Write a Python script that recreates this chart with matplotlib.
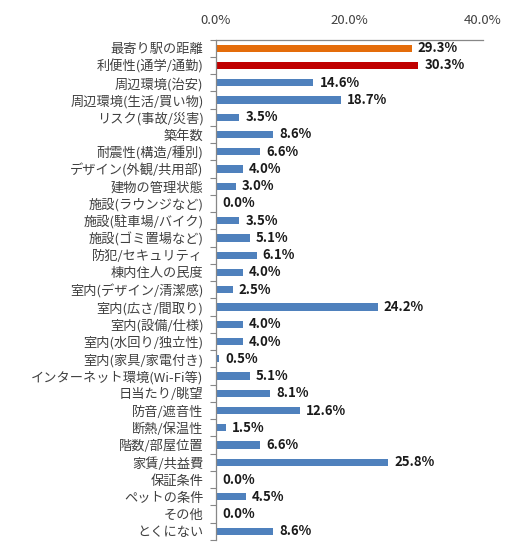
import matplotlib
matplotlib.use("Agg")
import matplotlib.pyplot as plt
from matplotlib.ticker import FuncFormatter, FixedLocator

categories = ["最寄り駅の距離", "利便性(通学/通勤)", "周辺環境(治安)", "周辺環境(生活/買い物)",
              "リスク(事故/災害)", "築年数", "耐震性(構造/種別)", "デザイン(外観/共用部)",
              "建物の管理状態", "施設(ラウンジなど)", "施設(駐車場/バイク)", "施設(ゴミ置場など)",
              "防犯/セキュリティ", "棟内住人の民度", "室内(デザイン/清潔感)", "室内(広さ/間取り)",
              "室内(設備/仕様)", "室内(水回り/独立性)", "室内(家具/家電付き)", "インターネット環境(Wi-Fi等)",
              "日当たり/眺望", "防音/遮音性", "断熱/保温性", "階数/部屋位置", "家賃/共益費",
              "保証条件", "ペットの条件", "その他", "とくにない"]
values = [29.3, 30.3, 14.6, 18.7, 3.5, 8.6, 6.6, 4.0, 3.0, 0.0, 3.5, 5.1, 6.1, 4.0, 2.5,
          24.2, 4.0, 4.0, 0.5, 5.1, 8.1, 12.6, 1.5, 6.6, 25.8, 0.0, 4.5, 0.0, 8.6]
colors = ["#E46C0A", "#C00000"] + ["#4F81BD"] * (len(values) - 2)
xticks = [0, 20, 40]

plt.rcParams['font.family'] = ['Noto Sans CJK JP', 'DejaVu Sans']

fig = plt.figure(figsize=(5.13, 5.54), dpi=100)
ax = fig.add_axes([0.421, 0.0253, 0.5205, 0.9034])
n = len(categories)
y = list(range(n))
ax.barh(y, values, height=0.42, color=colors)
ax.set_ylim(n - 0.5, -0.5)
ax.set_xlim(0, 40)
ax.set_yticks(y)
ax.set_yticklabels(categories, fontsize=9.5, color="#404040")
ax.tick_params(axis='y', length=0, pad=9)
ax.yaxis.set_minor_locator(FixedLocator([i + 0.5 for i in range(-1, n)]))
ax.tick_params(axis='y', which='minor', length=4, color="#878787", width=0.8)
ax.xaxis.tick_top()
ax.set_xticks(xticks)
ax.xaxis.set_major_formatter(FuncFormatter(lambda v, p: f"{v:.1f}%"))
ax.tick_params(axis='x', length=0, pad=9, labelsize=9.5, labelcolor="#404040")
for s in ['right', 'bottom']:
    ax.spines[s].set_visible(False)
for s in ['left', 'top']:
    ax.spines[s].set_color("#878787")
    ax.spines[s].set_linewidth(0.9)
for yi, v in zip(y, values):
    ax.text(v + 0.9, yi, f"{v:.1f}%", va='center', ha='left', fontsize=9.5,
            fontweight='bold', color="#1a1a1a")
fig.savefig("out.png", dpi=100)
